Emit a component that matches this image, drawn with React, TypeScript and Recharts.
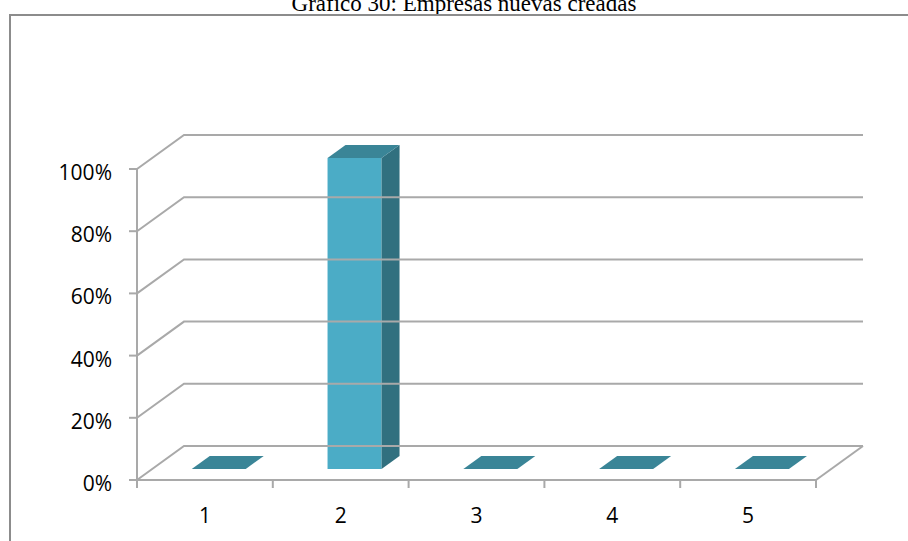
import React from "react";
import { BarChart, Bar, XAxis, YAxis, ReferenceLine } from "recharts";

// Chart content
const titleText = "Gráfico 30: Empresas nuevas creadas";
const categories = ["1", "2", "3", "4", "5"];
const shareValues = [0, 100, 0, 0, 0];
const percentTicks = [0, 20, 40, 60, 80, 100];

const rows = categories.map((name, i) => ({ name, share: shareValues[i] }));

// Pseudo-3D geometry: wall depth and bar placement inside it
const WALL_DX = 47;
const WALL_DY = -34;
const BAR_OX = 14;
const BAR_OY = -11;
const BAR_DX = 18;
const BAR_DY = -13;

const GRID = "#a9a9a9";
const FRONT = "#4BACC6";
const SIDE = "#31707F";
const TOP = "#3A8597";
const FONT = "'Open Sans', 'Noto Sans', sans-serif";

const WallLine = (props: any) => {
  const { x1, y1, x2, value } = props;
  const bx1 = x1 + WALL_DX;
  const bx2 = x2 + WALL_DX;
  const by = y1 + WALL_DY;
  return (
    <g>
      <path
        d={`M${x1},${y1} L${bx1},${by} L${bx2},${by}`}
        fill="none"
        stroke={GRID}
        strokeWidth={2}
      />
      {value === 0 ? (
        <line x1={x2} y1={y1} x2={bx2} y2={by} stroke={GRID} strokeWidth={2} />
      ) : null}
    </g>
  );
};

const Box3D = (props: any) => {
  const { x, y, width, height } = props;
  if (x == null || y == null) return null;
  const h = Math.max(0, height || 0);
  const fx = x + BAR_OX;
  const fy = y + BAR_OY;
  const w = width;
  const top = `${fx},${fy} ${fx + w},${fy} ${fx + w + BAR_DX},${fy + BAR_DY} ${fx + BAR_DX},${fy + BAR_DY}`;
  const side = `${fx + w},${fy} ${fx + w + BAR_DX},${fy + BAR_DY} ${fx + w + BAR_DX},${fy + h + BAR_DY} ${fx + w},${fy + h}`;
  return (
    <g>
      {h > 0 ? <rect x={fx} y={fy} width={w} height={h} fill={FRONT} /> : null}
      {h > 0 ? <polygon points={side} fill={SIDE} /> : null}
      <polygon points={top} fill={TOP} />
    </g>
  );
};

const CategoryTick = (props: any) => {
  const { x, y, payload, index, visibleTicksCount } = props;
  const half = payload && typeof payload.offset === "number" && payload.offset > 0 ? payload.offset : 67.9;
  const last = index === (visibleTicksCount ?? categories.length) - 1;
  return (
    <g>
      <line x1={x - half} y1={y} x2={x - half} y2={y + 8} stroke={GRID} strokeWidth={2} />
      {last ? (
        <line x1={x + half} y1={y} x2={x + half} y2={y + 8} stroke={GRID} strokeWidth={2} />
      ) : null}
      <text x={x} y={y + 43} textAnchor="middle" fontFamily={FONT} fontSize={21} fill="#000">
        {payload.value}
      </text>
    </g>
  );
};

const PercentTick = (props: any) => {
  const { x, y, payload } = props;
  return (
    <text x={x} y={y + 11} textAnchor="end" fontFamily={FONT} fontSize={21} fill="#000">
      {`${payload.value}%`}
    </text>
  );
};

export default function App() {
  return (
    <div
      style={{
        position: "absolute",
        left: 0,
        top: 0,
        width: 908,
        height: 541,
        overflow: "hidden",
        background: "#fff",
      }}
    >
      <div
        style={{
          position: "absolute",
          left: 0,
          width: 928,
          top: -9,
          textAlign: "center",
          fontFamily: "'Liberation Serif', 'Times New Roman', serif",
          fontSize: 23,
          lineHeight: "26px",
          color: "#000",
          whiteSpace: "nowrap",
        }}
      >
        {titleText}
      </div>
      <div
        style={{
          position: "absolute",
          left: 9,
          top: 14,
          width: 1000,
          height: 1000,
          borderLeft: "2px solid #8c8c8c",
          borderTop: "2px solid #8c8c8c",
          boxSizing: "border-box",
        }}
      />
      <div style={{ position: "absolute", left: 0, top: 0 }}>
        <BarChart
          width={908}
          height={541}
          data={rows}
          margin={{ top: 169, right: 92, bottom: 31, left: 77 }}
          barCategoryGap="30%"
        >
          <XAxis
            dataKey="name"
            height={30}
            axisLine={{ stroke: GRID, strokeWidth: 2 }}
            tickLine={false}
            tickSize={0}
            tickMargin={0}
            tick={<CategoryTick />}
            interval={0}
          />
          <YAxis
            width={60}
            domain={[0, 100]}
            ticks={percentTicks}
            interval={0}
            axisLine={{ stroke: GRID, strokeWidth: 2 }}
            tickLine={{ stroke: GRID, strokeWidth: 2 }}
            tickSize={8}
            tickMargin={17}
            tick={<PercentTick />}
          />
          {percentTicks.map((v) => (
            <ReferenceLine
              key={v}
              y={v}
              ifOverflow="visible"
              shape={(p: any) => <WallLine {...p} value={v} />}
            />
          ))}
          <Bar dataKey="share" isAnimationActive={false} shape={<Box3D />} />
        </BarChart>
      </div>
    </div>
  );
}
